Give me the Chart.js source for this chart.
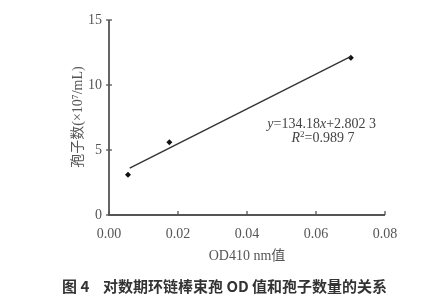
<!DOCTYPE html>
<html>
<head>
<meta charset="utf-8">
<script src="https://cdn.jsdelivr.net/npm/chart.js@4/dist/chart.umd.min.js"></script>
<style>
html,body{margin:0;padding:0;background:#fff;}
#wrap{width:434px;height:301px;position:relative;}
</style>
</head>
<body>
<div id="wrap"><canvas id="chart" width="434" height="301"></canvas></div>
<script>
// measured points
const odValues = [0.0055, 0.0175, 0.0701];
const sporeCounts = [3.1, 5.6, 12.1];

// fitted line ends
const fitX = [0.006, 0.07];
const fitY = [3.61, 12.19];

const xTicks = [0, 0.02, 0.04, 0.06, 0.08];
const yTicks = [0, 5, 10, 15];

const equationText = "=134.18";
const r2Text = "=0.989 7";
const yTitle = "孢子数(×10⁷/mL)";
const captionHead = "图 4";
const captionText = "对数期环链棒束孢 OD 值和孢子数量的关系";

const serif = "'Liberation Serif','Times New Roman','Noto Sans CJK SC',serif";
const axisColor = "#555";

const extras = {
id:"extras",
afterDraw(chart){
const c = chart.ctx;
const xs = chart.scales.x;
const ys = chart.scales.y;
const left = xs.getPixelForValue(0);
const right = xs.getPixelForValue(0.08);
const top = ys.getPixelForValue(15);
const bottom = ys.getPixelForValue(0);

c.save();
c.strokeStyle = axisColor;
c.lineWidth = 1.8;
c.beginPath();
c.moveTo(left, top);
c.lineTo(left, bottom);
c.lineTo(right, bottom);
c.stroke();

// ticks
c.lineWidth = 1.3;
xTicks.forEach(v=>{
const px = xs.getPixelForValue(v);
c.beginPath();
c.moveTo(px, bottom);
c.lineTo(px, bottom-4);
c.stroke();
});
yTicks.forEach(v=>{
const py = ys.getPixelForValue(v);
c.beginPath();
c.moveTo(left-3, py);
c.lineTo(left+3, py);
c.stroke();
});

// y title
c.fillStyle = "#555";
c.font = "14px "+serif;
c.textAlign = "center";
c.textBaseline = "middle";
c.translate(78, 117);
c.rotate(-Math.PI/2);
c.fillText(yTitle, 0, 0);
c.setTransform(1,0,0,1,0,0);

// equation
c.fillStyle = "#444";
c.textAlign = "left";
let ex = xs.getPixelForValue(0.0459);
let ey = ys.getPixelForValue(6.95);
const parts = [
["italic 14px "+serif,"y"],
["14px "+serif,equationText],
["italic 14px "+serif,"x"],
["14px "+serif,"+2.802 3"]
];
parts.forEach(p=>{
c.font = p[0];
c.fillText(p[1], ex, ey);
ex += c.measureText(p[1]).width;
});

let rx = xs.getPixelForValue(0.0529);
let ry = ys.getPixelForValue(5.9);
c.font = "italic 14px "+serif;
c.fillText("R", rx, ry);
rx += c.measureText("R").width;
c.font = "9px "+serif;
c.fillText("2", rx, ry-4);
rx += c.measureText("2").width;
c.font = "14px "+serif;
c.fillText(r2Text, rx, ry);

// caption
c.fillStyle = "#333";
c.font = "bold 15px 'Noto Sans CJK SC',sans-serif";
c.fillText(captionHead, 62, 286);
c.fillText(captionText, 103, 286);
c.restore();
}
};

const chart = new Chart(document.getElementById("chart"),{
type:"scatter",
data:{
datasets:[
{
label:"fit",
type:"line",
data:fitX.map((x,i)=>({x:x,y:fitY[i]})),
borderColor:"#333",
borderWidth:1.4,
pointRadius:0,
fill:false
},
{
label:"OD",
data:odValues.map((x,i)=>({x:x,y:sporeCounts[i]})),
pointStyle:"rectRot",
pointRadius:3,
backgroundColor:"#111",
borderColor:"#111",
borderWidth:0
}
]
},
options:{
responsive:false,
animation:false,
layout:{padding:{left:0,right:49,top:20,bottom:36}},
plugins:{legend:{display:false},tooltip:{enabled:false}},
scales:{
x:{
type:"linear",
min:0,max:0.08,
afterBuildTicks(s){s.ticks = xTicks.map(v=>({value:v}));},
afterFit(s){s.height = 50;},
grid:{display:false,drawTicks:false},
border:{display:false},
ticks:{
padding:11,
color:"#555",
font:{family:serif,size:14},
callback:v=>v.toFixed(2)
},
title:{
display:true,
text:"OD410 nm值",
color:"#555",
font:{family:serif,size:14},
padding:{top:2,bottom:0}
}
},
y:{
min:0,max:15,
afterBuildTicks(s){s.ticks = yTicks.map(v=>({value:v}));},
afterFit(s){s.width = 109;},
grid:{display:false,drawTicks:false},
border:{display:false},
ticks:{
padding:7,
color:"#555",
font:{family:serif,size:14}
}
}
}
},
plugins:[extras]
});
</script>
</body>
</html>
